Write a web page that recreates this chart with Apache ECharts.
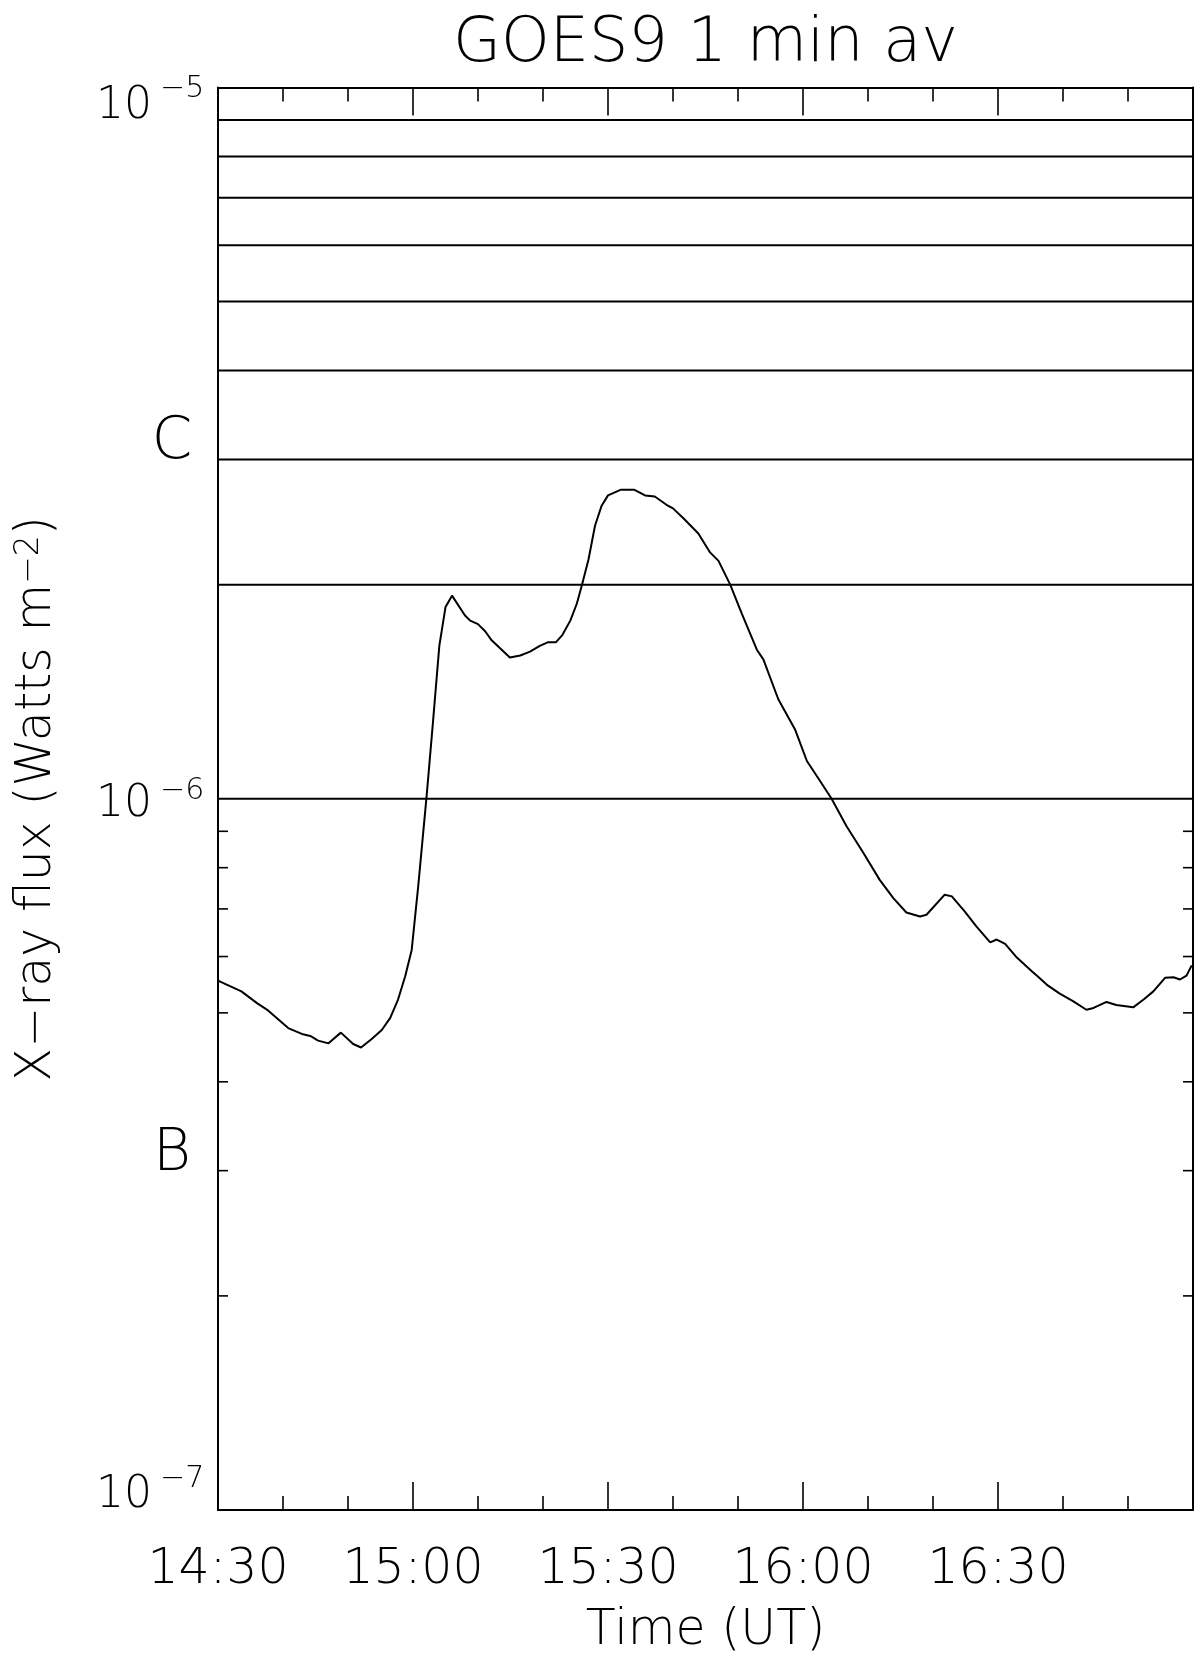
<!DOCTYPE html>
<html>
<head>
<meta charset="utf-8">
<script src="https://cdn.jsdelivr.net/npm/echarts@6/dist/echarts.min.js"></script>
<style>
html,body{margin:0;padding:0;background:#fff;}
#chart{width:1200px;height:1668px;}
</style>
</head>
<body>
<div id="chart"></div>
<script>
// ---- data (minutes after 14:30 UT, flux in W m^-2) ----
const minutes = [0,3.6,6,7.7,10.8,12.9,14.2,15.4,17,18.9,20.8,22,23.6,25.2,26.5,27.7,28.8,29.8,30.8,32.1,33.1,34.05,35,36,38,38.8,40,41.1,42.1,44.9,46.5,48,49.5,50.8,52,53,54.2,55.2,56,57,58,59,60,62,64,65.7,67.2,69,70,71.6,73.9,75.7,77,78.8,80.6,82.9,83.9,86.2,88.8,90.6,92.6,94.4,96.7,99.3,101.8,103.9,105.9,108,109,111.8,112.9,114.9,116.7,118.8,119.8,121.1,122.9,125.2,126,127.7,129.5,131.6,133.6,134.7,136.7,138.2,140.8,142.4,143.9,145.7,147,148,149,149.8];
const flux = [5.55e-7,5.36e-7,5.16e-7,5.04e-7,4.76e-7,4.67e-7,4.64e-7,4.57e-7,4.53e-7,4.69e-7,4.52e-7,4.47e-7,4.59e-7,4.73e-7,4.92e-7,5.22e-7,5.63e-7,6.13e-7,7.53e-7,1.01e-6,1.29e-6,1.64e-6,1.86e-6,1.93e-6,1.81e-6,1.78e-6,1.76e-6,1.72e-6,1.67e-6,1.58e-6,1.59e-6,1.61e-6,1.64e-6,1.66e-6,1.66e-6,1.70e-6,1.78e-6,1.88e-6,2.00e-6,2.17e-6,2.42e-6,2.58e-6,2.67e-6,2.72e-6,2.72e-6,2.67e-6,2.66e-6,2.59e-6,2.56e-6,2.48e-6,2.36e-6,2.22e-6,2.16e-6,2.00e-6,1.82e-6,1.62e-6,1.57e-6,1.38e-6,1.25e-6,1.13e-6,1.06e-6,1.00e-6,9.15e-7,8.39e-7,7.69e-7,7.25e-7,6.92e-7,6.83e-7,6.87e-7,7.33e-7,7.29e-7,6.94e-7,6.61e-7,6.28e-7,6.34e-7,6.25e-7,5.98e-7,5.72e-7,5.64e-7,5.46e-7,5.32e-7,5.19e-7,5.05e-7,5.08e-7,5.18e-7,5.13e-7,5.09e-7,5.22e-7,5.36e-7,5.60e-7,5.61e-7,5.57e-7,5.64e-7,5.83e-7];
const xTickLabels = ['14:30','15:00','15:30','16:00','16:30'];
const yDecades = [1e-7, 1e-6, 1e-5];
const yExponents = ['\u22127', '\u22126', '\u22125'];
const yMinorTicks = [2e-7,3e-7,4e-7,5e-7,6e-7,7e-7,8e-7,9e-7];
const gridLevels = [1e-6,2e-6,3e-6,4e-6,5e-6,6e-6,7e-6,8e-6,9e-6];
const classNames = ['B','C'];
const classLevels = [3.16e-7, 3.16e-6];
const titleText = 'GOES9 1 min av';
const xTitle = 'Time (UT)';
const yTitleMain = 'X\u2212ray flux (Watts m';
const yTitleSup = '\u22122';

const FONT = '"DejaVu Sans", sans-serif';
const W = 200;
const chart = echarts.init(document.getElementById('chart'), null, {renderer:'canvas'});

const lineData = minutes.map((m, i) => [m, flux[i]]);

const baseTxt = {fontFamily: FONT, fontWeight: W, color: '#000'};
const xAxisCommon = {
  type: 'value', min: 0, max: 150, interval: 30,
  axisLine: {show: true, onZero: false, lineStyle: {color: '#000', width: 2}},
  axisTick: {show: true, inside: true, length: 28, lineStyle: {color: '#000', width: 1.6}},
  minorTick: {show: true, splitNumber: 3, length: 14, lineStyle: {color: '#000', width: 1.6}},
  splitLine: {show: false}
};

// vertical offsets of the decade labels (bottom / middle / top label)
const labOff10 = [-17, 3, 16.5];
const labOffSup = [-33, -10, 0];

const option = {
  animation: false,
  backgroundColor: '#fff',
  grid: {left: 218, top: 87.5, width: 975, height: 1422.5, containLabel: false},
  xAxis: [
    Object.assign({}, xAxisCommon, {
      position: 'bottom',
      axisLabel: Object.assign({}, baseTxt, {fontSize: 49, margin: 36, showMaxLabel: false,
        formatter: v => xTickLabels[Math.round(v / 30)] || ''}),
      name: xTitle, nameLocation: 'middle', nameGap: 97,
      nameTextStyle: Object.assign({}, baseTxt, {fontSize: 49})
    }),
    Object.assign({}, xAxisCommon, {
      position: 'top',
      axisLabel: {show: false},
      name: titleText, nameLocation: 'middle', nameGap: 12,
      nameTextStyle: Object.assign({}, baseTxt, {fontSize: 62})
    })
  ],
  yAxis: [
    {
      type: 'log', logBase: 10, min: 1e-7, max: 1e-5, position: 'left',
      axisLine: {show: true, onZero: false, lineStyle: {color: '#000', width: 2}},
      axisTick: {show: false},
      splitLine: {show: false},
      axisLabel: {show: false},
      name: '{n|' + yTitleMain + '}{s|' + yTitleSup + '}{n|)}',
      nameLocation: 'middle', nameRotate: 90, nameGap: 147,
      nameTextStyle: Object.assign({}, baseTxt, {
        fontSize: 49,
        rich: {
          n: {fontFamily: FONT, fontWeight: W, fontSize: 49, lineHeight: 58, verticalAlign: 'top', color: '#000'},
          s: {fontFamily: FONT, fontWeight: W, fontSize: 33, lineHeight: 33, verticalAlign: 'top', color: '#000'}
        }
      })
    },
    {
      type: 'log', logBase: 10, min: 1e-7, max: 1e-5, position: 'right',
      axisLine: {show: true, onZero: false, lineStyle: {color: '#000', width: 2}},
      axisTick: {show: false}, axisLabel: {show: false}, splitLine: {show: false}
    }
  ],
  series: [
    {
      type: 'line', xAxisIndex: 0, yAxisIndex: 0,
      data: lineData, showSymbol: false, symbol: 'none',
      lineStyle: {color: '#000', width: 2}, z: 3
    },
    { // horizontal levels 1e-6 .. 9e-6
      type: 'custom', xAxisIndex: 0, yAxisIndex: 0, silent: true, clip: false, z: 2,
      data: gridLevels.map(v => [0, v]),
      encode: {x: 0, y: 1},
      renderItem: function (params, api) {
        const cs = params.coordSys;
        const y = api.coord([0, api.value(1)])[1];
        return {type: 'line', shape: {x1: cs.x, y1: y, x2: cs.x + cs.width, y2: y},
          style: {stroke: '#000', lineWidth: 2}};
      }
    },
    { // minor y ticks, left and right
      type: 'custom', xAxisIndex: 0, yAxisIndex: 0, silent: true, clip: false, z: 4,
      data: yMinorTicks.map(v => [0, v]),
      encode: {x: 0, y: 1},
      renderItem: function (params, api) {
        const cs = params.coordSys;
        const y = api.coord([0, api.value(1)])[1];
        const len = 10;
        return {type: 'group', children: [
          {type: 'line', shape: {x1: cs.x, y1: y, x2: cs.x + len, y2: y}, style: {stroke: '#000', lineWidth: 1.6}},
          {type: 'line', shape: {x1: cs.x + cs.width - len, y1: y, x2: cs.x + cs.width, y2: y}, style: {stroke: '#000', lineWidth: 1.6}}
        ]};
      }
    },
    { // decade labels 10^-7, 10^-6, 10^-5
      type: 'custom', xAxisIndex: 0, yAxisIndex: 0, silent: true, clip: false, z: 4,
      data: yDecades.map(v => [0, v]),
      encode: {x: 0, y: 1},
      renderItem: function (params, api) {
        const cs = params.coordSys;
        const i = params.dataIndex;
        const y = api.coord([0, api.value(1)])[1];
        return {type: 'group', children: [
          {type: 'text', x: cs.x - 66, y: y + labOff10[i] + 3, style: {
            text: '10', fill: '#000', font: W + ' 44px ' + FONT, textAlign: 'right', textVerticalAlign: 'middle'}},
          {type: 'text', x: cs.x - 58, y: y + labOffSup[i] + 2, style: {
            text: yExponents[i], fill: '#000', font: W + ' 30px ' + FONT, textAlign: 'left', textVerticalAlign: 'middle'}}
        ]};
      }
    },
    { // GOES class letters
      type: 'custom', xAxisIndex: 0, yAxisIndex: 0, silent: true, clip: false, z: 4,
      data: classLevels.map(v => [0, v]),
      encode: {x: 0, y: 1},
      renderItem: function (params, api) {
        const cs = params.coordSys;
        const y = api.coord([0, api.value(1)])[1];
        return {type: 'text', x: cs.x - 46, y: y, style: {
          text: classNames[params.dataIndex], fill: '#000',
          font: W + ' 58px ' + FONT, textAlign: 'center', textVerticalAlign: 'middle'
        }};
      }
    }
  ]
};
chart.setOption(option);
</script>
</body>
</html>
